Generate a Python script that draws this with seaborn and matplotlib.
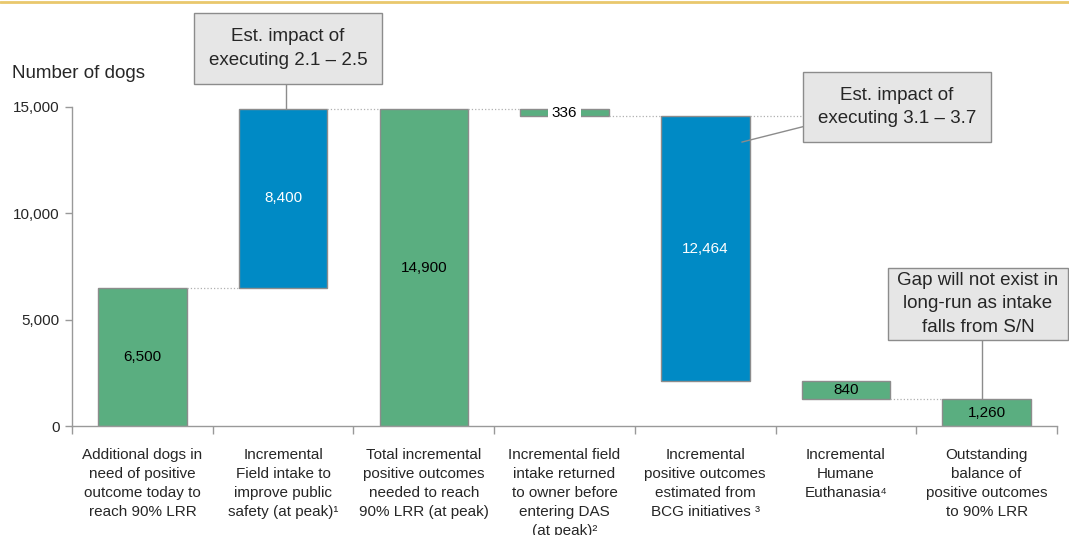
import numpy as np
import pandas as pd
import matplotlib.pyplot as plt
import seaborn as sns
from matplotlib.lines import Line2D
from matplotlib.patches import Rectangle

# ============================================
# DATA
# ============================================

categories = [
    "Additional dogs in\nneed of positive\noutcome today to\nreach 90% LRR",
    "Incremental\nField intake to\nimprove public\nsafety (at peak)\u00b9",
    "Total incremental\npositive outcomes\nneeded to reach\n90% LRR (at peak)",
    "Incremental field\nintake returned\nto owner before\nentering DAS\n(at peak)\u00b2",
    "Incremental\npositive outcomes\nestimated from\nBCG initiatives \u00b3",
    "Incremental\nHumane\nEuthanasia\u2074",
    "Outstanding\nbalance of\npositive outcomes\nto 90% LRR",
]
values = [6500, 8400, 14900, 336, 12464, 840, 1260]
bottoms = [0, 6500, 0, 14564, 2100, 1260, 0]
bar_kind = ["base", "impact", "base", "base", "impact", "base", "base"]
value_labels = ["6,500", "8,400", "14,900", "336", "12,464", "840", "1,260"]
yticks = [0, 5000, 10000, 15000]

GREEN = "#5AAE80"
BLUE = "#008AC5"
EDGE = "#8C8C8C"
kind_color = {"base": GREEN, "impact": BLUE}

df = pd.DataFrame({"category": categories, "value": values})

# ============================================
# PLOT
# ============================================

sns.set_style("white")
plt.rcParams["font.family"] = ["Liberation Sans", "DejaVu Sans"]

W, H = 1069, 535
fig = plt.figure(figsize=(W / 100, H / 100), dpi=100)
ax = fig.add_axes([0.0674, 0.2037, 0.9214, 0.5963])

sns.barplot(
    data=df,
    x="category",
    y="value",
    hue="category",
    palette=[kind_color[k] for k in bar_kind],
    legend=False,
    width=0.63,
    edgecolor=EDGE,
    linewidth=1,
    saturation=1,
    ax=ax,
)

# shift bars to their waterfall position
for patch, b in zip(ax.patches, bottoms):
    patch.set_y(b)

ax.set_xlim(-0.5, 6.5)
ax.set_ylim(0, 15000)

# dotted connectors between bars
half = 0.63 / 2
for i in range(len(values) - 1):
    top_i = bottoms[i] + values[i]
    if bar_kind[i] == "impact" or i in (0, 2):
        level = top_i
    else:
        level = bottoms[i]
    ax.plot([i + half, i + 1 - half], [level, level], color="#B0B0B0",
            linestyle=":", linewidth=0.9, clip_on=False, zorder=1)

# value labels
for i, (v, b, lab, k) in enumerate(zip(values, bottoms, value_labels, bar_kind)):
    color = "white" if k == "impact" else "black"
    kw = {}
    if i == 3:
        kw["bbox"] = dict(facecolor="white", edgecolor="none", pad=3)
    ax.text(i, b + v / 2, lab, ha="center", va="center", fontsize=11,
            color=color, zorder=5, **kw)

# axes styling
for s in ["top", "right"]:
    ax.spines[s].set_visible(False)
for s in ["left", "bottom"]:
    ax.spines[s].set_color("#999999")
    ax.spines[s].set_linewidth(1)

ax.set_yticks(yticks)
ax.set_yticklabels([f"{t:,}" for t in yticks], fontsize=11)
ax.tick_params(axis="y", length=5, color="#999999", width=1, left=True, pad=4)

ax.set_xticks(range(len(categories)))
ax.set_xticklabels(categories, fontsize=11, linespacing=1.46, va="top")
ax.tick_params(axis="x", which="major", length=0, pad=16)
ax.set_xticks(np.arange(-0.5, 7, 1), minor=True)
ax.tick_params(axis="x", which="minor", length=6, color="#999999",
               width=1, bottom=True, direction="out")
ax.set_xlabel("")
ax.set_ylabel("")

fig.text(12 / W, 1 - 74 / H, "Number of dogs", fontsize=13.5,
         ha="left", va="center")


# annotation boxes (pixel extents: left, top, right, bottom)
def callout(x0, y0, x1, y1, text):
    fig.add_artist(Rectangle((x0 / W, 1 - y1 / H), (x1 - x0) / W,
                             (y1 - y0) / H, transform=fig.transFigure,
                             facecolor="#E6E6E6", edgecolor="#8C8C8C",
                             linewidth=1, zorder=6))
    fig.text((x0 + x1) / 2 / W, 1 - (y0 + y1) / 2 / H, text, ha="center",
             va="center", fontsize=13.5, linespacing=1.5, zorder=7)


callout(194, 13, 382, 84, "Est. impact of\nexecuting 2.1 \u2013 2.5")
ax.plot([1.02, 1.02], [14900, 16100], color="#8C8C8C", lw=1, clip_on=False)

callout(803, 72, 991, 142, "Est. impact of\nexecuting 3.1 \u2013 3.7")
ax.plot([5.22, 4.26], [14950, 13350], color="#8C8C8C", lw=1, clip_on=False,
        zorder=6)

callout(888, 268, 1068, 340,
        "Gap will not exist in\nlong-run as intake\nfalls from S/N")
ax.plot([5.97, 5.97], [1260, 4050], color="#8C8C8C", lw=1, clip_on=False)

# golden rule at the top
fig.add_artist(Line2D([0, 1], [0.997, 0.997], transform=fig.transFigure,
                      color="#E9C86C", linewidth=2))

plt.savefig("out.png", dpi=100)
